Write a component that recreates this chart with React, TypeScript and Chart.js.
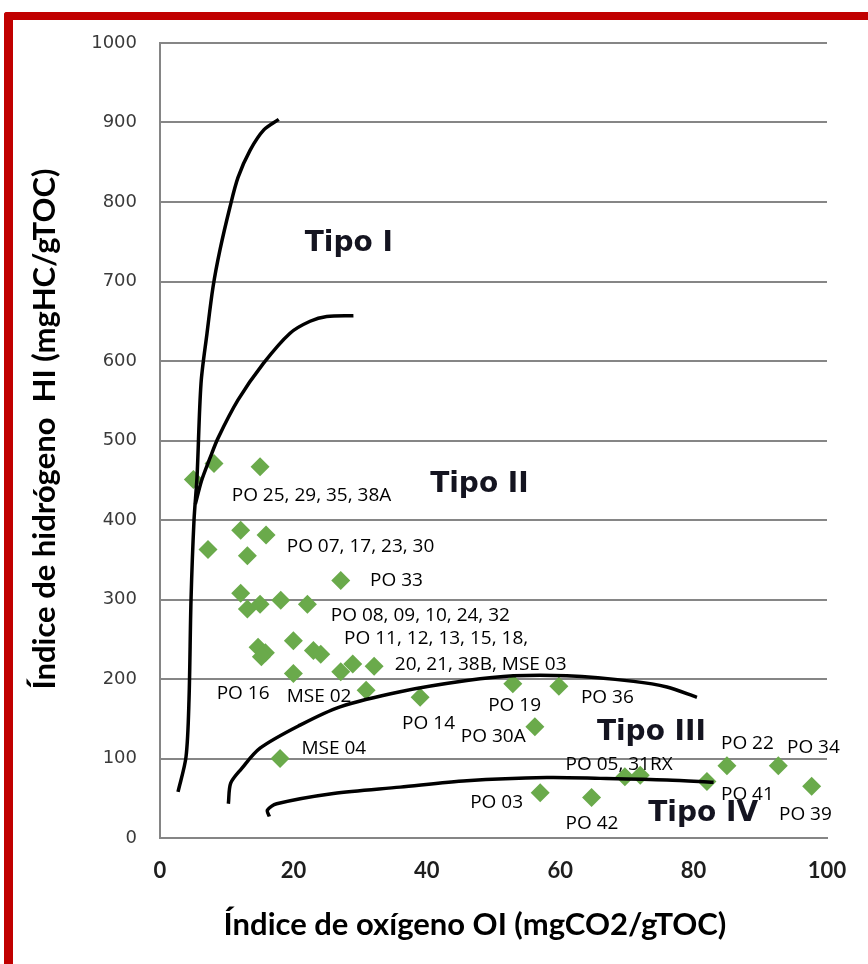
import React, { useEffect, useRef } from "react";
import { Chart, registerables } from "chart.js";
Chart.register(...registerables);

// Sample points: oxygen index (OI) and hydrogen index (HI)
const sampleOI = [5, 8.1, 15, 12.1, 15.9, 7.2, 13.1, 27.1, 12.1, 13.1, 15, 18.1, 22.1, 14.7, 15.8, 15.2, 20, 23, 24.1, 20, 27.1, 28.9, 32.1, 30.9, 39, 52.9, 56.2, 18, 57, 59.8, 85, 92.7, 97.7, 82, 69.7, 72, 64.7];
const sampleHI = [451, 471, 467, 387, 381, 363, 355, 324, 308, 288, 294, 299, 294, 240, 233, 228, 248, 236, 231, 207, 209, 219, 216, 186, 177, 194, 140, 100, 57, 191, 91, 91, 65, 71, 77, 79, 51];

// Kerogen type boundary curves
const typeIOI = [2.7, 3.9, 4.35, 4.65, 5.1, 5.55, 6.15, 7.05, 7.95, 9.0, 10.5, 11.7, 13.5, 15.6, 17.8];
const typeIHI = [58, 102, 174, 299, 400, 454, 572, 635, 693, 740, 794, 831, 865, 891, 904];
const typeIIOI = [5.3, 6.25, 7.5, 8.7, 11.7, 15.5, 19.5, 22.5, 25, 29];
const typeIIHI = [420, 450, 478, 503, 551, 597, 635, 650, 656, 657];
const typeIIIOI = [10.25, 10.6, 12.2, 15, 21, 27, 36, 46, 53, 61, 71, 76, 80.5];
const typeIIIHI = [43, 69, 87, 113, 142, 165, 184, 198, 204, 204, 197, 190, 177];
const typeIVOI = [16.4, 16.1, 17.5, 26, 36, 46, 58, 66, 76, 83];
const typeIVHI = [27, 35, 43, 56, 64, 72, 76, 75, 73, 70];

// Sample labels (anchored at data coordinates, left/middle)
const sampleLabelText = ["PO 25, 29, 35, 38A", "PO 07, 17, 23, 30", "PO 33", "PO 08, 09, 10, 24, 32", "PO 11, 12, 13, 15, 18,", "20, 21, 38B, MSE 03", "PO 16", "MSE 02", "PO 14", "PO 30A", "PO 19", "MSE 04", "PO 03", "PO 36", "PO 05, 31RX", "PO 22", "PO 34", "PO 41", "PO 39", "PO 42"];
const sampleLabelOI = [10.75, 19.0, 31.5, 25.6, 27.6, 35.2, 8.5, 19.0, 36.3, 45.1, 49.2, 21.2, 46.5, 63.1, 60.8, 84.1, 94.0, 84.1, 92.8, 60.8];
const sampleLabelHI = [431, 366, 324, 280, 251, 218, 182, 178, 144, 127, 167, 113, 44, 176, 92, 119, 114, 54, 29, 18.5];

const typeLabelText = ["Tipo I", "Tipo II", "Tipo III", "Tipo IV"];
const typeLabelOI = [21.7, 40.5, 65.5, 73.2];
const typeLabelHI = [748, 445, 132, 31];

const xTickValues = [0, 20, 40, 60, 80, 100];
const yTickValues = [0, 100, 200, 300, 400, 500, 600, 700, 800, 900, 1000];

const xTitle = "Índice de oxígeno OI (mgCO2/gTOC)";
const yTitle = "Índice de hidrógeno  HI (mgHC/gTOC)";

const toPoints = (xs: number[], ys: number[]) => xs.map((v, i) => ({ x: v, y: ys[i] }));

const TITLE_FONT = 'bold 31px Lato, "Liberation Sans", sans-serif';

const labelPlugin = {
  id: "kerogenLabels",
  afterDatasetsDraw(chart: any) {
    const { ctx, scales } = chart;
    const xs = scales.x;
    const ys = scales.y;
    ctx.save();
    ctx.textAlign = "left";
    ctx.textBaseline = "middle";
    ctx.fillStyle = "#000000";
    ctx.font = '19px "Open Sans"';
    sampleLabelText.forEach((t, i) => {
      ctx.fillText(t, xs.getPixelForValue(sampleLabelOI[i]), ys.getPixelForValue(sampleLabelHI[i]));
    });
    ctx.font = 'bold 28px "DejaVu Sans"';
    ctx.fillStyle = "#141420";
    typeLabelText.forEach((t, i) => {
      ctx.fillText(t, xs.getPixelForValue(typeLabelOI[i]), ys.getPixelForValue(typeLabelHI[i]));
    });
    ctx.restore();
  },
  afterDraw(chart: any) {
    const { ctx, chartArea } = chart;
    ctx.save();
    ctx.fillStyle = "#000000";
    ctx.font = TITLE_FONT;
    ctx.textAlign = "center";
    ctx.textBaseline = "middle";
    // x-axis title
    ctx.fillText(xTitle, chartArea.left + 315, chartArea.bottom + 87);
    // y-axis title
    ctx.translate(45, chartArea.top + 386);
    ctx.rotate(-Math.PI / 2);
    ctx.fillText(yTitle, 0, 0);
    ctx.restore();
  },
};

const curveStyle = {
  showLine: true,
  pointRadius: 0,
  borderColor: "#000000",
  borderWidth: 3.5,
  tension: 0.3,
  fill: false,
  order: 0,
};

export default function App() {
  const canvasRef = useRef<HTMLCanvasElement | null>(null);

  useEffect(() => {
    if (!canvasRef.current) return;
    const chart = new Chart(canvasRef.current, {
      type: "scatter",
      data: {
        datasets: [
          {
            label: "Muestras",
            data: toPoints(sampleOI, sampleHI),
            pointStyle: "rectRot",
            pointRadius: 9.5,
            backgroundColor: "#6aaa4b",
            borderColor: "#6aaa4b",
            borderWidth: 0,
            order: 1,
          },
          { label: "Tipo I", data: toPoints(typeIOI, typeIHI), ...curveStyle },
          { label: "Tipo II", data: toPoints(typeIIOI, typeIIHI), ...curveStyle },
          { label: "Tipo III", data: toPoints(typeIIIOI, typeIIIHI), ...curveStyle },
          { label: "Tipo IV", data: toPoints(typeIVOI, typeIVHI), ...curveStyle },
        ] as any,
      },
      options: {
        animation: false,
        responsive: false,
        maintainAspectRatio: false,
        layout: { padding: { left: 0, right: 41, top: 43, bottom: 0 } },
        plugins: {
          legend: { display: false },
          tooltip: { enabled: false },
        },
        scales: {
          x: {
            type: "linear",
            min: 0,
            max: 100,
            afterBuildTicks: (s: any) => {
              s.ticks = xTickValues.map((v) => ({ value: v }));
            },
            afterFit: (s: any) => {
              s.height = 126;
            },
            grid: { display: false, drawTicks: false },
            border: { display: true, color: "#858585", width: 2 },
            ticks: {
              padding: 20,
              color: "#1e1e1e",
              callback: (v: any) => String(v),
              font: { family: 'Lato, "Liberation Sans", sans-serif', size: 22, weight: "bold" },
            },
            title: { display: false, text: xTitle },
          },
          y: {
            type: "linear",
            min: 0,
            max: 1000,
            afterBuildTicks: (s: any) => {
              s.ticks = yTickValues.map((v) => ({ value: v }));
            },
            afterFit: (s: any) => {
              s.width = 160;
            },
            grid: { display: true, drawTicks: false, color: "#868686", lineWidth: 2 },
            border: { display: true, color: "#858585", width: 2 },
            ticks: {
              padding: 23,
              color: "#3a3a3a",
              callback: (v: any) => String(v),
              font: { family: '"DejaVu Sans", sans-serif', size: 18 },
            },
            title: { display: false, text: yTitle },
          },
        },
      } as any,
      plugins: [labelPlugin],
    });
    return () => chart.destroy();
  }, []);

  return (
    <div style={{ position: "absolute", left: 0, top: 0, width: 868, height: 964, background: "#ffffff", overflow: "hidden" }}>
      <div
        style={{
          position: "absolute",
          left: 4,
          top: 12,
          width: 880,
          height: 980,
          borderTop: "8px solid #c00000",
          borderLeft: "9px solid #c00000",
          borderTopLeftRadius: 3,
          boxSizing: "border-box",
        }}
      />
      <canvas ref={canvasRef} width={868} height={964} style={{ position: "absolute", left: 0, top: 0 }} />
    </div>
  );
}
